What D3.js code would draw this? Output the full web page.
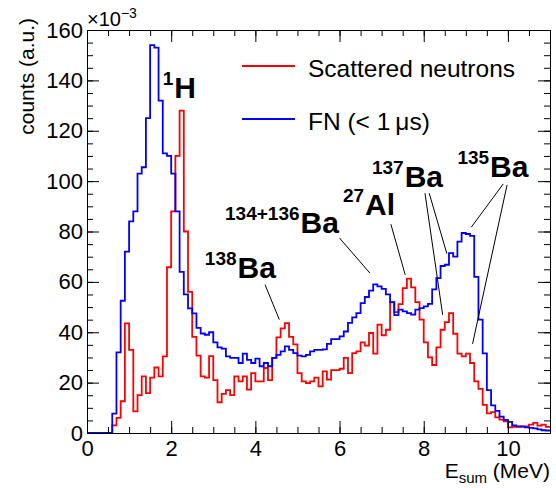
<!DOCTYPE html>
<html>
<head>
<meta charset="utf-8">
<script src="https://cdn.jsdelivr.net/npm/d3@7"></script>
<style>
  body { margin: 0; background: #fff; }
  svg { font-family: "Liberation Sans", Arial, Helvetica, sans-serif; }
</style>
</head>
<body>
<svg width="556" height="488"></svg>
<script>
// histogram bins: 0.1 MeV wide, from 0 to 11 MeV, counts in units of 1e-3
var binStart = 0, binWidth = 0.1;

var scattered = [0, 0, 0, 0, 0, 0,
  3, 6, 12.6, 43.5,
  33, 8.6, 15, 22.5, 15.8, 22, 26, 22.5, 30.4, 65.8,
  88, 110, 128, 80, 56, 38.2, 30.7, 22.5, 22, 30.5,
  21, 12.2, 15.5, 17, 15, 22.5, 20.5, 22.5, 17.2, 23.8,
  20.5, 20.5, 25.8, 21, 29.8, 38, 41.5, 43.6, 38.2, 35.2,
  23.8, 20.5, 19.8, 20.5, 22, 18.5, 24.5, 21.2, 25, 25,
  25.5, 29.8, 23.8, 31.7, 32.4, 36, 34.7, 39.7, 31.5, 43,
  38.8, 41, 51.9, 48, 51.2, 57.5, 61.3, 57.8, 52, 45,
  36, 30, 27, 34, 41, 44, 47.6, 39.4, 31.5, 30.4,
  31.5, 27.8, 20.5, 17.5, 11.2, 7.8, 8.3, 6.2, 5.3, 4.6,
  2.2, 2.4, 2.4, 2.6, 2.6, 3.3, 4, 2.9, 3.3, 2.4];

var fnFast = [0, 0, 0, 0, 0, 0,
  7.7, 32, 52.5, 72,
  84, 88, 103, 105.5, 125, 154, 153, 132, 111, 110,
  103, 88, 64, 55, 49.5, 47.5, 41.7, 39.5, 39, 40,
  36, 34, 33.5, 30.4, 29.8, 29.8, 27.8, 31.5, 29, 27.8,
  29.5, 26.5, 27.8, 26.5, 29.8, 31, 32.4, 34.4, 33, 31.7,
  30.7, 30.4, 31, 32.4, 33, 33, 33.2, 35.4, 37.3, 37.3,
  38.4, 40.3, 43.7, 45.9, 47.6, 51.6, 54, 56.5, 59, 58.2,
  57.2, 55, 52, 46.8, 49, 48.3, 47.6, 47, 49, 49.6,
  50.3, 51.3, 57, 61.5, 66.3, 66.8, 71.4, 70, 76, 79.4,
  79, 78.3, 62, 45, 31.6, 17, 11, 8.8, 6.5, 5.2,
  4.4, 3, 2.6, 2.5, 2.2, 2, 1.8, 1.4, 1.1, 1.0];

var xTicks = [0, 2, 4, 6, 8, 10];
var yTicks = [0, 20, 40, 60, 80, 100, 120, 140, 160];
var legendLabels = ["Scattered neutrons", "FN (< 1\u2009\u03bcs)"];

// isotope labels: superscript, element, left edge (MeV), baseline (counts)
var isoSup = ["1", "138", "134+136", "27", "137", "135"];
var isoMain = ["H", "Ba", "Ba", "Al", "Ba", "Ba"];
var isoE = [1.80, 2.80, 3.28, 6.08, 6.77, 8.80];
var isoV = [133, 61.6, 79.5, 86.6, 97.7, 101.7];

// pointer lines from labels to peaks, [MeV, counts]
var pointerFrom = [[4.23, 58.9], [6.0, 77.4], [7.22, 82.9], [8.03, 95.2], [8.13, 95.2], [9.89, 98.9], [9.98, 98.5]];
var pointerTo = [[4.57, 45.0], [6.72, 63.5], [7.56, 62.8], [8.45, 46.9], [8.55, 71.2], [9.13, 81.7], [9.16, 35.4]];

var svg = d3.select("svg"),
    margin = {top: 30, right: 6, bottom: 55, left: 87},
    width = +svg.attr("width") - margin.left - margin.right,
    height = +svg.attr("height") - margin.top - margin.bottom;

var x = d3.scaleLinear().domain([0, 11]).range([0, width]);
var y = d3.scaleLinear().domain([0, 160]).range([height, 0]);

var g = svg.append("g")
    .attr("transform", "translate(" + margin.left + "," + margin.top + ")");

function histPath(vals) {
  var pts = vals.map(function(v, i) { return [binStart + i * binWidth, v]; });
  pts.push([binStart + vals.length * binWidth, vals[vals.length - 1]]);
  return d3.line()
    .x(function(d) { return x(d[0]); })
    .y(function(d) { return y(d[1]); })
    .curve(d3.curveStepAfter)(pts);
}

g.append("path")
    .attr("d", histPath(scattered))
    .attr("fill", "none")
    .attr("stroke", "#ff0000")
    .attr("stroke-width", 1.8);

g.append("path")
    .attr("d", histPath(fnFast))
    .attr("fill", "none")
    .attr("stroke", "#0000ff")
    .attr("stroke-width", 1.8);

// axes, ROOT style: ticks inside, on all four sides
function styleAxis(sel) {
  sel.attr("font-family", null).attr("font-size", 22);
  sel.selectAll("line").attr("stroke", "#000");
  sel.select(".domain").attr("stroke", "#000");
}

var minorX = d3.range(0, 11.01, 0.5), minorY = d3.range(0, 160.1, 5);

g.append("g").attr("transform", "translate(0," + height + ")")
    .call(d3.axisBottom(x).tickValues(minorX).tickSize(-6).tickSizeOuter(0).tickFormat(""))
    .call(styleAxis);
g.append("g").attr("transform", "translate(0," + height + ")")
    .call(d3.axisBottom(x).tickValues(xTicks).tickSize(-12).tickSizeOuter(0).tickPadding(7))
    .call(styleAxis);
g.append("g")
    .call(d3.axisTop(x).tickValues(minorX).tickSize(-6).tickSizeOuter(0).tickFormat(""))
    .call(styleAxis);
g.append("g")
    .call(d3.axisTop(x).tickValues(xTicks).tickSize(-12).tickSizeOuter(0).tickFormat(""))
    .call(styleAxis);

g.append("g")
    .call(d3.axisLeft(y).tickValues(minorY).tickSize(-6).tickSizeOuter(0).tickFormat(""))
    .call(styleAxis);
g.append("g")
    .call(d3.axisLeft(y).tickValues(yTicks).tickSize(-12).tickSizeOuter(0).tickPadding(4))
    .call(styleAxis);
g.append("g").attr("transform", "translate(" + width + ",0)")
    .call(d3.axisRight(y).tickValues(minorY).tickSize(-6).tickSizeOuter(0).tickFormat(""))
    .call(styleAxis);
g.append("g").attr("transform", "translate(" + width + ",0)")
    .call(d3.axisRight(y).tickValues(yTicks).tickSize(-12).tickSizeOuter(0).tickFormat(""))
    .call(styleAxis);

// exponent
var ex = svg.append("text")
    .attr("x", margin.left)
    .attr("y", 26)
    .attr("font-size", 20)
    .text("\u00d710");
ex.append("tspan").attr("font-size", 14).attr("dy", -8).text("\u22123");

// axis titles
svg.append("text")
    .attr("transform", "translate(34,18) rotate(-90)")
    .attr("text-anchor", "end")
    .attr("font-size", 21)
    .text("counts (a.u.)");

var xt = svg.append("text")
    .attr("x", margin.left + width)
    .attr("y", 478)
    .attr("text-anchor", "end")
    .attr("font-size", 21);
xt.append("tspan").text("E");
xt.append("tspan").attr("font-size", 15).attr("dy", 5).text("sum");
xt.append("tspan").attr("dy", -5).text(" (MeV)");

// legend
var legColors = ["#ff0000", "#0000ff"];
var legY = [66, 119];
legendLabels.forEach(function(lab, i) {
  svg.append("line")
      .attr("x1", 242).attr("x2", 295)
      .attr("y1", legY[i]).attr("y2", legY[i])
      .attr("stroke", legColors[i]).attr("stroke-width", 1.8);
  svg.append("text")
      .attr("x", 308).attr("y", legY[i] + 11)
      .attr("font-size", 24.5)
      .text(lab);
});

// pointer lines
pointerFrom.forEach(function(p, i) {
  g.append("line")
      .attr("x1", x(p[0])).attr("y1", y(p[1]))
      .attr("x2", x(pointerTo[i][0])).attr("y2", y(pointerTo[i][1]))
      .attr("stroke", "#000").attr("stroke-width", 1);
});

// isotope labels
isoMain.forEach(function(m, i) {
  var t = g.append("text")
      .attr("x", x(isoE[i]))
      .attr("y", y(isoV[i]))
      .attr("font-weight", "bold");
  t.append("tspan").attr("font-size", 19).attr("dy", -13).text(isoSup[i]);
  t.append("tspan").attr("font-size", 30).attr("dy", 13).attr("dx", 1).text(m);
});
</script>
</body>
</html>
